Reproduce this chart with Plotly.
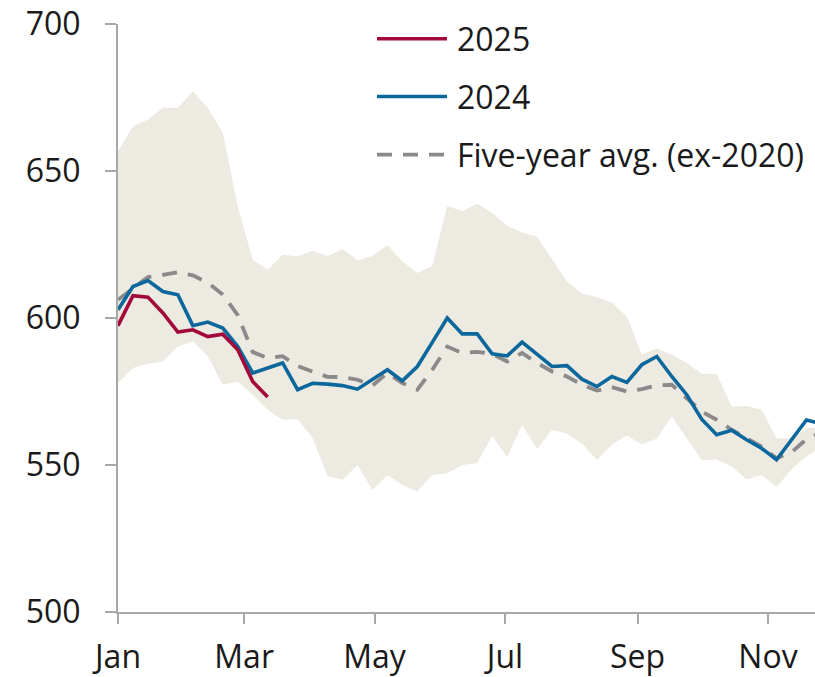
import datetime as dt
import plotly.graph_objects as go

# Weekly observations (week k starts Jan 1 + 7k days, plotted on a common-year axis)
start = dt.date(2025, 1, 1)
n_weeks = 48
weeks = [(start + dt.timedelta(days=7 * k)).isoformat() for k in range(n_weeks)]

range_upper = [656.7, 665.2, 667.5, 671.5, 671.5, 677.1, 671.5, 663.0, 638.0, 619.8,
               616.4, 621.5, 621.0, 622.9, 621.0, 623.5, 619.6, 621.2, 624.8, 619.3,
               615.3, 617.8, 638.2, 636.3, 638.9, 635.7, 631.4, 629.1, 627.6, 619.8,
               612.4, 608.3, 607.1, 605.3, 600.5, 587.6, 589.6, 587.5, 584.7, 581.0,
               581.0, 569.9, 570.1, 568.8, 559.1, 559.1, 562.5, 563.0]
range_lower = [577.9, 583.0, 584.4, 585.2, 590.3, 592.0, 586.9, 577.3, 578.4, 573.9,
               568.8, 565.4, 565.6, 559.3, 546.3, 545.0, 550.0, 541.5, 546.6, 543.2,
               541.0, 546.6, 547.2, 550.0, 550.6, 559.9, 552.7, 563.7, 555.4, 562.0,
               560.6, 557.4, 551.7, 556.9, 560.0, 557.0, 559.0, 566.5, 559.1, 551.7,
               551.9, 549.5, 545.1, 546.6, 542.5, 548.5, 553.0, 556.0]
avg_5yr = [606.2, 610.2, 613.9, 614.7, 615.6, 614.5, 612.0, 608.0, 601.0, 588.4,
           586.4, 587.0, 583.7, 581.8, 580.0, 579.9, 579.0, 577.0, 581.3, 577.9,
           575.6, 582.4, 590.3, 588.1, 588.5, 587.8, 585.2, 588.1, 584.7, 581.8,
           580.1, 577.3, 575.3, 576.5, 575.0, 575.8, 577.1, 577.3, 572.7, 568.2,
           565.4, 562.0, 559.1, 556.3, 552.3, 554.3, 558.8, 561.0]
y2024 = [602.8, 610.7, 612.7, 609.0, 607.9, 597.4, 598.6, 596.6, 590.3, 581.3,
         583.0, 584.7, 575.6, 577.8, 577.5, 577.0, 575.8, 579.1, 582.4, 578.6,
         583.5, 591.7, 600.0, 594.6, 594.6, 587.8, 587.1, 591.8, 587.8, 583.5,
         583.8, 579.2, 576.7, 580.1, 578.1, 584.1, 586.9, 580.1, 573.9, 565.6,
         560.3, 561.8, 558.6, 555.7, 551.8, 558.8, 565.3, 564.0]
y2025 = [597.4, 607.6, 607.1, 601.7, 595.2, 596.0, 593.7, 594.5, 589.2, 578.4, 573.1]

series_names = ["2025", "2024", "Five-year avg. (ex-2020)"]
y_ticks = [500, 550, 600, 650, 700]

RED = "#A3083B"
BLUE = "#0B679C"
GREY = "#8A8A8A"
BAND = "#ECEAE1"
AXIS = "#A8A8A8"
FONT = "Open Sans"
DASH = "15px,11px"

fig = go.Figure()
fig.add_trace(go.Scatter(x=weeks, y=range_lower, mode="lines", line=dict(width=0),
                         hoverinfo="skip", showlegend=False))
fig.add_trace(go.Scatter(x=weeks, y=range_upper, mode="lines", line=dict(width=0),
                         fill="tonexty", fillcolor=BAND, hoverinfo="skip", showlegend=False))
fig.add_trace(go.Scatter(x=weeks, y=avg_5yr, mode="lines", name=series_names[2],
                         line=dict(color=GREY, width=3.8, dash=DASH), showlegend=False))
fig.add_trace(go.Scatter(x=weeks, y=y2024, mode="lines", name=series_names[1],
                         line=dict(color=BLUE, width=3.6), showlegend=False))
fig.add_trace(go.Scatter(x=weeks[:len(y2025)], y=y2025, mode="lines", name=series_names[0],
                         line=dict(color=RED, width=3.6), showlegend=False))

# Custom legend (long line samples)
legend_items = [(series_names[0], RED, "solid"), (series_names[1], BLUE, "solid"),
                (series_names[2], GREY, DASH)]
legend_y = [0.975, 0.8766, 0.7779]
for (label, color, dash), yy in zip(legend_items, legend_y):
    fig.add_shape(type="line", xref="paper", yref="paper", x0=0.3716, x1=0.472,
                  y0=yy, y1=yy, line=dict(color=color, width=3.6, dash=dash))
    fig.add_annotation(xref="paper", yref="paper", x=0.4835, y=yy, text=label,
                       showarrow=False, xanchor="left", yanchor="middle",
                       font=dict(family=FONT, size=32, color="#1a1a1a"))

fig.update_layout(
    width=815, height=677,
    margin=dict(l=118, r=0, t=24, b=65, autoexpand=False),
    paper_bgcolor="white", plot_bgcolor="white",
    font=dict(family=FONT, size=32, color="#1a1a1a"),
    showlegend=False,
)
fig.update_xaxes(
    type="date", range=["2025-01-01", "2025-11-23"],
    tick0="2025-01-01", dtick="M2", tickformat="%b",
    showline=True, linecolor=AXIS, linewidth=2,
    ticks="outside", ticklen=10, tickwidth=2, tickcolor=AXIS,
    showgrid=False, zeroline=False, ticklabelstandoff=6, automargin=False,
)
fig.update_yaxes(
    range=[500, 700], tickvals=y_ticks,
    showline=True, linecolor=AXIS, linewidth=2,
    ticks="outside", ticklen=11, tickwidth=2, tickcolor=AXIS,
    showgrid=False, zeroline=False, ticklabelstandoff=18, automargin=False,
)

fig.write_html("out.html", config={"displayModeBar": False},
               post_script="document.body.style.margin='0px';")
